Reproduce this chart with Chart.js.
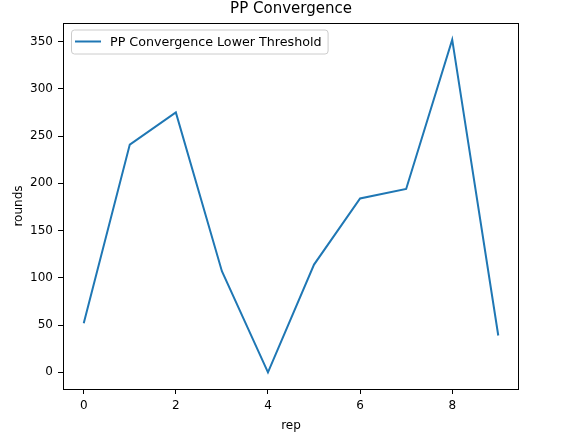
<!DOCTYPE html>
<html>
<head>
<meta charset="utf-8">
<script src="https://cdn.jsdelivr.net/npm/chart.js@4/dist/chart.umd.min.js"></script>
<style>
  html, body { margin: 0; padding: 0; background: #fff; }
  #wrap { width: 566px; height: 438px; }
</style>
</head>
<body>
<div id="wrap"><canvas id="chart" width="566" height="438"></canvas></div>
<script>
//data
const reps = [0, 1, 2, 3, 4, 5, 6, 7, 8, 9];
const rounds = [52, 241, 275, 107, 0, 114, 184, 194, 352, 39];
const xTicks = [0, 2, 4, 6, 8];
const yTicks = [0, 50, 100, 150, 200, 250, 300, 350];

const chartTitle = 'PP Convergence';
const seriesName = 'PP Convergence Lower Threshold';
const lineColor = '#1f77b4';
const fontFamily = '"DejaVu Sans", sans-serif';

//matplotlib style 5% margins around the data
const xMin = Math.min(...reps), xMax = Math.max(...reps);
const yMin = Math.min(...rounds), yMax = Math.max(...rounds);
const xPad = (xMax - xMin) * 0.05;
const yPad = (yMax - yMin) * 0.05;

//draws the title, the frame round the axes and the legend box
const mplDecor = {
	id: 'mplDecor',
	afterDatasetsDraw(chart){
		const ctx = chart.ctx;
		const a = chart.chartArea;
		ctx.save();

		//frame
		ctx.strokeStyle = '#000';
		ctx.lineWidth = 1;
		ctx.strokeRect(Math.round(a.left) + 0.5, Math.round(a.top) + 0.5,
			Math.round(a.right - a.left) - 1, Math.round(a.bottom - a.top));

		//title
		ctx.fillStyle = '#000';
		ctx.font = '15px ' + fontFamily;
		ctx.textAlign = 'center';
		ctx.textBaseline = 'alphabetic';
		ctx.fillText(chartTitle, (a.left + a.right) / 2, a.top - 10);

		//legend
		ctx.font = '12.7px ' + fontFamily;
		const tw = ctx.measureText(seriesName).width;
		const bx = a.left + 8, by = a.top + 6.5;
		const bw = 39 + tw + 6, bh = 24;
		ctx.beginPath();
		ctx.roundRect(bx + 0.5, by + 0.5, bw, bh, 3);
		ctx.fillStyle = 'rgba(255,255,255,0.8)';
		ctx.fill();
		ctx.strokeStyle = '#cccccc';
		ctx.stroke();

		ctx.beginPath();
		ctx.moveTo(bx + 4, by + bh / 2);
		ctx.lineTo(bx + 30, by + bh / 2);
		ctx.strokeStyle = lineColor;
		ctx.lineWidth = 2;
		ctx.stroke();

		ctx.fillStyle = '#000';
		ctx.textAlign = 'left';
		ctx.textBaseline = 'middle';
		ctx.fillText(seriesName, bx + 39, by + bh / 2 + 1);
		ctx.restore();
	}
};

const tickStyle = {
	drawOnChartArea: false,
	drawTicks: true,
	tickLength: 5,
	color: '#000',
	lineWidth: 1
};

const ctx1 = document.getElementById('chart');

const lineChart = new Chart(ctx1, {
	type: 'line',
	data: {
		datasets: [{
			label: seriesName,
			data: reps.map((r, i) => ({x: r, y: rounds[i]})),
			borderColor: lineColor,
			backgroundColor: lineColor,
			borderWidth: 2,
			pointRadius: 0,
			tension: 0,
			fill: false
		}]
	},
	options: {
		responsive: false,
		animation: false,
		layout: {
			padding: {top: 23, right: 47, left: 0, bottom: 0}
		},
		plugins: {
			legend: {display: false},
			title: {display: false},
			tooltip: {enabled: false}
		},
		scales: {
			x: {
				type: 'linear',
				min: xMin - xPad,
				max: xMax + xPad,
				grid: tickStyle,
				border: {display: false},
				afterBuildTicks(scale){
					scale.ticks = xTicks.map(v => ({value: v}));
				},
				afterFit(scale){
					scale.height = 49;
				},
				ticks: {
					color: '#000',
					padding: 5,
					maxRotation: 0,
					font: {family: fontFamily, size: 12}
				},
				title: {
					display: true,
					text: 'rep',
					color: '#000',
					padding: {top: 0, bottom: 5},
					font: {family: fontFamily, size: 12}
				}
			},
			y: {
				min: yMin - yPad,
				max: yMax + yPad,
				grid: tickStyle,
				border: {display: false},
				afterBuildTicks(scale){
					scale.ticks = yTicks.map(v => ({value: v}));
				},
				afterFit(scale){
					scale.width = 63;
				},
				ticks: {
					color: '#000',
					padding: 5,
					font: {family: fontFamily, size: 12}
				},
				title: {
					display: true,
					text: 'rounds',
					color: '#000',
					padding: {top: 12, bottom: 0},
					font: {family: fontFamily, size: 12}
				}
			}
		}
	},
	plugins: [mplDecor]
});
</script>
</body>
</html>
